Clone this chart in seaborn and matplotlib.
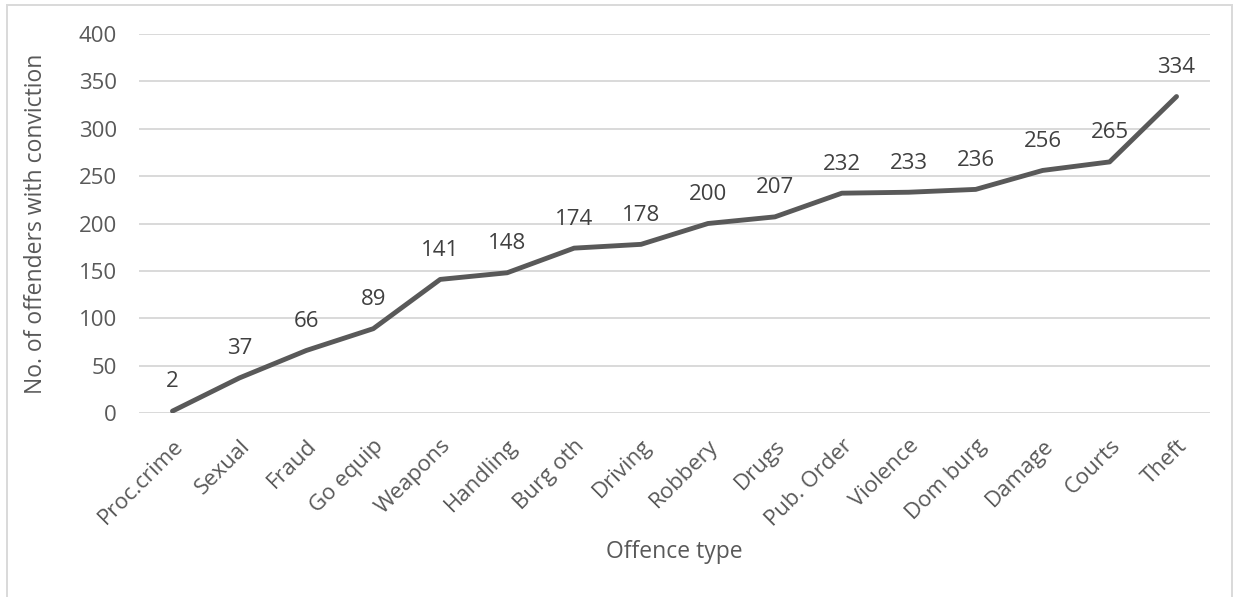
import matplotlib
matplotlib.use("Agg")
import matplotlib.pyplot as plt
import seaborn as sns
import pandas as pd
from matplotlib.patches import Rectangle

offence_types = ["Proc.crime", "Sexual", "Fraud", "Go equip", "Weapons", "Handling",
                 "Burg oth", "Driving", "Robbery", "Drugs", "Pub. Order", "Violence",
                 "Dom burg", "Damage", "Courts", "Theft"]
offenders = [2, 37, 66, 89, 141, 148, 174, 178, 200, 207, 232, 233, 236, 256, 265, 334]
y_ticks = [0, 50, 100, 150, 200, 250, 300, 350, 400]

sns.set_theme(style="white")
plt.rcParams["font.family"] = ["Open Sans", "DejaVu Sans"]

text_col = "#595959"
grid_col = "#d9d9d9"
line_col = "#595959"

df = pd.DataFrame({"Offence type": offence_types, "Offenders": offenders})

fig = plt.figure(figsize=(12.34, 5.97), dpi=100)
ax = fig.add_axes([139 / 1234, 1 - 413 / 597, (1210 - 139) / 1234, (413 - 34) / 597])

sns.lineplot(data=df, x="Offence type", y="Offenders", sort=False, ax=ax,
             color=line_col, linewidth=3.5, solid_capstyle="round",
             solid_joinstyle="round")

ax.set_xlim(-0.5, len(offence_types) - 0.5)
ax.set_ylim(0, 400)
ax.set_yticks(y_ticks)
ax.yaxis.grid(True, color=grid_col, linewidth=1.4)
ax.set_axisbelow(True)
for s in ax.spines.values():
    s.set_visible(False)

ax.tick_params(axis="both", length=0, colors=text_col, labelsize=16)
ax.tick_params(axis="y", pad=16)
ax.set_xticks(range(len(offence_types)))
ax.set_xticklabels(offence_types, rotation=45, ha="right", rotation_mode="anchor")
ax.tick_params(axis="x", pad=16)

# value labels above each point
for i, v in enumerate(offenders):
    ax.annotate(str(v), (i, v), xytext=(0, 17), textcoords="offset points",
                ha="center", va="baseline", fontsize=16, color="#404040")

ax.set_xlabel("Offence type", fontsize=16.5, color=text_col, labelpad=7)
ax.set_ylabel("No. of offenders with conviction", fontsize=16.5, color=text_col, labelpad=22)

# thin chart-area border
fig.patches.append(Rectangle((7 / 1234, -0.05), (1232 - 7) / 1234, 1.05 - 5 / 597,
                             transform=fig.transFigure, fill=False,
                             edgecolor=grid_col, linewidth=1.4))

fig.savefig("out.png", dpi=100)
